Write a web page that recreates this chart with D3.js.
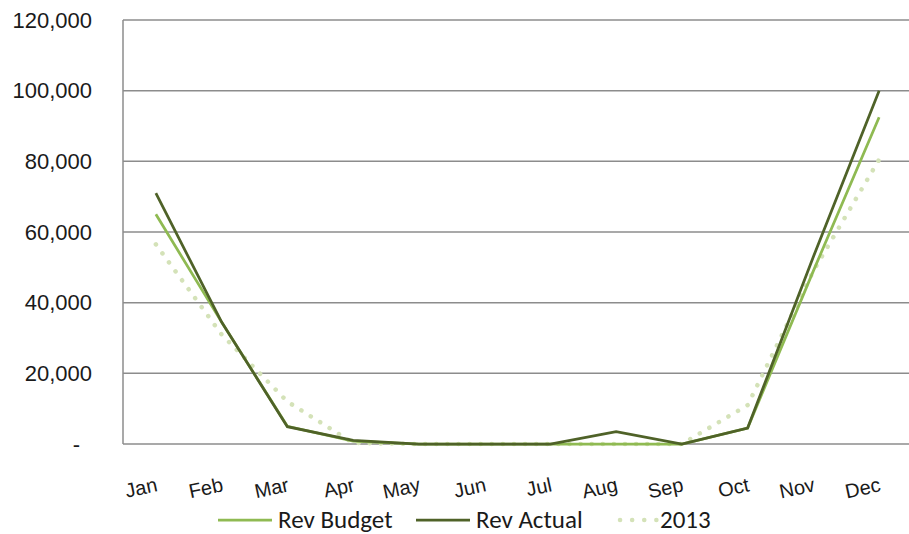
<!DOCTYPE html>
<html>
<head>
<meta charset="utf-8">
<script src="https://cdn.jsdelivr.net/npm/d3@7"></script>
<style>
  body { margin: 0; background: #fff; }
  svg { display: block; font-family: Carlito, Lato, "Liberation Sans", sans-serif; }
</style>
</head>
<body>
<div id="chart"></div>
<script>
// months on the x axis
var months = ["Jan", "Feb", "Mar", "Apr", "May", "Jun", "Jul", "Aug", "Sep", "Oct", "Nov", "Dec"];

// series values
var revBudget = [65000, 34500, 5000, 800, 0, 0, 0, 0, 0, 4500, 49000, 92500];
var revActual = [71000, 34500, 4900, 1000, 0, 0, 0, 3500, 0, 4500, 53000, 100000];
var rev2013   = [56500, 31000, 12000, 300, 0, 0, 0, 0, 0, 11000, 49000, 80500];

var yTicks = [0, 20000, 40000, 60000, 80000, 100000, 120000];

var seriesNames = ["Rev Budget", "Rev Actual", "2013"];

var w = 909, h = 534;

var svg = d3.select("#chart")
  .append("svg")
  .attr("width", w)
  .attr("height", h);

// scales
var x = d3.scalePoint()
  .domain(months)
  .range([123, 912])
  .padding(0.5);

var y = d3.scaleLinear()
  .domain([0, 120000])
  .range([444, 20]);

// gridlines
svg.append("g")
  .selectAll("line")
  .data(yTicks)
  .enter()
  .append("line")
  .attr("x1", 123)
  .attr("x2", w)
  .attr("y1", function(d) { return y(d); })
  .attr("y2", function(d) { return y(d); })
  .attr("stroke", "#8c8c8c")
  .attr("stroke-width", 1.5);

// left border of the plot
svg.append("line")
  .attr("x1", 123).attr("x2", 123)
  .attr("y1", y(120000)).attr("y2", y(0))
  .attr("stroke", "#8c8c8c")
  .attr("stroke-width", 1.5);

// y axis labels
var fmt = d3.format(",");
var yAxis = d3.axisLeft(y)
  .tickValues(yTicks)
  .tickSize(0)
  .tickPadding(0)
  .tickFormat(function(d) { return d === 0 ? "-" : fmt(d); });

var gy = svg.append("g")
  .attr("transform", "translate(92,0)")
  .call(yAxis);
gy.select(".domain").remove();
gy.selectAll("text")
  .attr("fill", "#1a1a1a")
  .style("font-size", "22px")
  .attr("dy", "0.32em")
  .attr("dx", function(d) { return d === 0 ? -12 : 0; });

// x axis labels, slightly tilted
var xAxis = d3.axisBottom(x).tickSize(0).tickPadding(0);
var gx = svg.append("g")
  .attr("transform", "translate(0,444)")
  .call(xAxis);
gx.select(".domain").remove();
gx.selectAll("text")
  .attr("fill", "#1a1a1a")
  .style("font-size", "20px")
  .attr("text-anchor", "end")
  .attr("y", 0)
  .attr("dy", 0)
  .attr("transform", "translate(2,47) rotate(-12)");

// lines
var line = d3.line()
  .x(function(d, i) { return x(months[i]); })
  .y(function(d) { return y(d); });

svg.append("path")
  .datum(rev2013)
  .attr("fill", "none")
  .attr("stroke", "#d4e2b8")
  .attr("stroke-width", 4.5)
  .attr("stroke-linecap", "round")
  .attr("stroke-dasharray", "0.1 11")
  .attr("d", line);

svg.append("path")
  .datum(revBudget)
  .attr("fill", "none")
  .attr("stroke", "#8fba52")
  .attr("stroke-width", 2.75)
  .attr("d", line);

svg.append("path")
  .datum(revActual)
  .attr("fill", "none")
  .attr("stroke", "#4f6228")
  .attr("stroke-width", 2.75)
  .attr("d", line);

// legend
var legX = [218, 416, 618];
var legend = svg.append("g");

legend.append("line")
  .attr("x1", legX[0]).attr("x2", legX[0] + 54)
  .attr("y1", 520).attr("y2", 520)
  .attr("stroke", "#8fba52").attr("stroke-width", 2.75);

legend.append("line")
  .attr("x1", legX[1]).attr("x2", legX[1] + 54)
  .attr("y1", 520).attr("y2", 520)
  .attr("stroke", "#4f6228").attr("stroke-width", 2.75);

legend.append("line")
  .attr("x1", legX[2] + 2).attr("x2", legX[2] + 40)
  .attr("y1", 520).attr("y2", 520)
  .attr("stroke", "#d4e2b8").attr("stroke-width", 4.5)
  .attr("stroke-linecap", "round")
  .attr("stroke-dasharray", "0.1 12");

legend.selectAll("text")
  .data(seriesNames)
  .enter()
  .append("text")
  .attr("x", function(d, i) { return legX[i] + (i === 2 ? 42 : 60); })
  .attr("y", 519)
  .attr("dy", "0.35em")
  .attr("fill", "#1a1a1a")
  .style("font-size", "25px")
  .text(function(d) { return d; });
</script>
</body>
</html>
